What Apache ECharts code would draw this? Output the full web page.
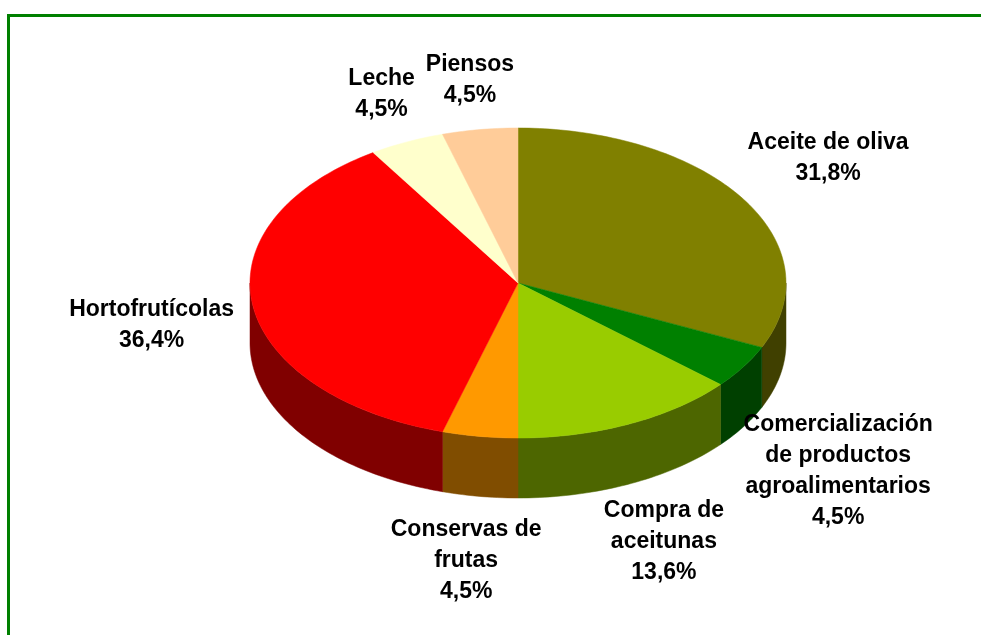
<!DOCTYPE html>
<html>
<head>
<meta charset="utf-8">
<script src="https://cdn.jsdelivr.net/npm/echarts@6/dist/echarts.min.js"></script>
<style>
  html, body { margin: 0; padding: 0; background: #fff; }
  #chart { width: 981px; height: 635px; }
</style>
</head>
<body>
<div id="chart"></div>
<script>
// slices, clockwise from 12 o'clock
var categories = ['Aceite de oliva', 'Comercialización\nde productos\nagroalimentarios', 'Compra de\naceitunas',
                  'Conservas de\nfrutas', 'Hortofrutícolas', 'Leche', 'Piensos'];
var counts = [7, 1, 3, 1, 8, 1, 1];
var topColors = ['#808000', '#008000', '#99CC00', '#FF9900', '#FF0000', '#FFFFCC', '#FFCC99'];
var sideColors = ['#404000', '#004000', '#4D6600', '#804D00', '#800000', '#808066', '#80664D'];

var total = counts.reduce(function (a, b) { return a + b; }, 0);
var angles = [];
var acc = 0;
counts.forEach(function (v) {
    angles.push([acc / total * Math.PI * 2, (acc + v) / total * Math.PI * 2]);
    acc += v;
});

// pie geometry (top face ellipse + wall depth)
var CX = 518, CY = 283, RX = 268, RY = 155, DEPTH = 60;
var FONT = 'bold 23px "Liberation Sans", Arial, sans-serif';
var LINE_H = 31;

function pt(t, k, dy) {
    return [CX + RX * k * Math.sin(t), CY - RY * k * Math.cos(t) + (dy || 0)];
}

function arc(t0, t1, dy) {
    var n = Math.max(2, Math.ceil((t1 - t0) / 0.02));
    var pts = [];
    for (var i = 0; i <= n; i++) pts.push(pt(t0 + (t1 - t0) * i / n, 1, dy));
    return pts;
}

var ctx = document.createElement('canvas').getContext('2d');
ctx.font = FONT;
function textWidth(s) {
    return Math.max.apply(null, s.split('\n').map(function (l) { return ctx.measureText(l).width; }));
}

function pct(v) {
    return (v / total * 100).toFixed(1).replace('.', ',') + '%';
}

var chart = echarts.init(document.getElementById('chart'));

chart.setOption({
    backgroundColor: '#fff',
    animation: false,
    graphic: [{
        type: 'rect',
        shape: { x: 8.5, y: 15.5, width: 1000, height: 700 },
        style: { fill: 'none', stroke: '#008000', lineWidth: 3 },
        z: 0
    }],
    series: [{
        // outer walls (front half only)
        type: 'custom',
        coordinateSystem: 'none',
        z: 1,
        data: counts,
        renderItem: function (params, api) {
            var a = angles[params.dataIndex];
            var t0 = Math.max(a[0], Math.PI / 2), t1 = Math.min(a[1], Math.PI * 1.5);
            if (t0 >= t1) return;
            var pts = arc(t0, t1, 0).concat(arc(t0, t1, DEPTH).reverse());
            var c = sideColors[params.dataIndex];
            return {
                type: 'polygon',
                shape: { points: pts },
                style: { fill: c, stroke: c, lineWidth: 0.5 }
            };
        }
    }, {
        // top faces + labels
        type: 'custom',
        coordinateSystem: 'none',
        z: 2,
        data: counts,
        renderItem: function (params, api) {
            var i = params.dataIndex;
            var a = angles[i];
            var c = topColors[i];
            var pts = [[CX, CY]].concat(arc(a[0], a[1], 0));
            var mid = (a[0] + a[1]) / 2;
            var s = Math.sin(mid), co = Math.cos(mid);
            var label = categories[i] + '\n' + pct(api.value(0));
            var nLines = label.split('\n').length;
            var anchor = pt(mid, 1.12, co < 0 ? -co * DEPTH : 0);
            var vy = Math.sign(co) * Math.min(1, Math.abs(co) * 2);
            var lx = anchor[0] + s * textWidth(label) / 2 * 0.85;
            var ly = anchor[1] - vy * nLines * LINE_H / 2;
            return {
                type: 'group',
                children: [{
                    type: 'polygon',
                    shape: { points: pts },
                    style: { fill: c, stroke: c, lineWidth: 0.5 }
                }, {
                    type: 'text',
                    x: lx,
                    y: ly,
                    style: {
                        text: label,
                        font: FONT,
                        fill: '#000',
                        align: 'center',
                        verticalAlign: 'middle',
                        lineHeight: LINE_H
                    }
                }]
            };
        }
    }]
});
</script>
</body>
</html>
